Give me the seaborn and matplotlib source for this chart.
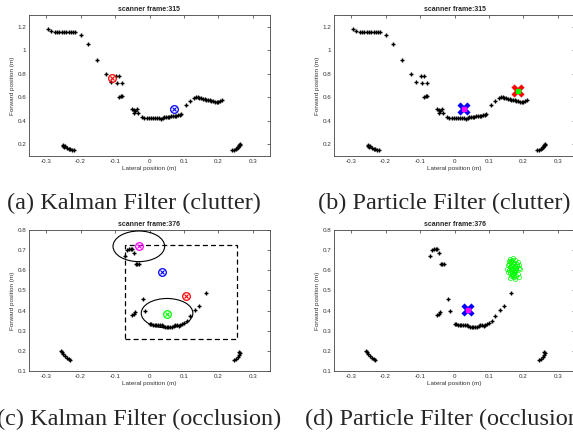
import numpy as np
import pandas as pd
import seaborn as sns
import matplotlib
matplotlib.use("Agg")
import matplotlib.pyplot as plt
from matplotlib.patches import Ellipse, Rectangle

sns.set_style("white")
plt.rcParams['font.family'] = ['Liberation Sans', 'DejaVu Sans']

# laser scan, frame 315
scan315_x = [-0.295, -0.285, -0.275, -0.268, -0.262, -0.255, -0.248, -0.242, -0.235, -0.228,
             -0.222, -0.215, -0.200, -0.180, -0.153, -0.125, -0.112, -0.096, -0.090, -0.093,
             -0.080, -0.088, -0.084, -0.079, -0.050, -0.046, -0.042, -0.037, -0.033, -0.045,
             -0.022, -0.015, -0.008, -0.002, 0.004, 0.010, 0.016, 0.022, 0.028, 0.033,
             0.038, 0.043, 0.048, 0.053, 0.058, 0.063, 0.068, 0.073, 0.078, 0.083,
             0.088, 0.092, 0.105, 0.118, 0.130, 0.135, 0.140, 0.145, 0.150, 0.155,
             0.160, 0.165, 0.170, 0.175, 0.180, 0.185, 0.190, 0.195, 0.200, 0.205,
             0.210, -0.250, -0.252, -0.248, -0.245, -0.240, -0.235, -0.230, -0.225, -0.220,
             0.240, 0.245, 0.250, 0.253, 0.256, 0.258, 0.260, 0.262, 0.264]
scan315_y = [1.185, 1.165, 1.155, 1.155, 1.155, 1.155, 1.155, 1.155, 1.155, 1.155,
             1.155, 1.155, 1.130, 1.050, 0.920, 0.795, 0.730, 0.780, 0.780, 0.720,
             0.720, 0.600, 0.610, 0.608, 0.500, 0.490, 0.480, 0.500, 0.470, 0.470,
             0.428, 0.426, 0.425, 0.425, 0.424, 0.424, 0.423, 0.422, 0.420, 0.416,
             0.422, 0.428, 0.432, 0.434, 0.436, 0.438, 0.440, 0.442, 0.444, 0.446,
             0.450, 0.455, 0.530, 0.570, 0.595, 0.600, 0.598, 0.595, 0.590, 0.585,
             0.582, 0.580, 0.578, 0.575, 0.572, 0.568, 0.563, 0.557, 0.560, 0.570,
             0.575, 0.190, 0.185, 0.180, 0.188, 0.165, 0.160, 0.158, 0.152, 0.155,
             0.150, 0.155, 0.160, 0.165, 0.175, 0.180, 0.190, 0.200, 0.195]

# laser scan, frame 376
scan376_x = [-0.070, -0.065, -0.060, -0.055, -0.050, -0.045, -0.040, -0.035, -0.030,
             -0.020, -0.012, -0.050, -0.046, -0.043,
             0.000, 0.005, 0.010, 0.015, 0.020, 0.025, 0.030, 0.035, 0.040, 0.045,
             0.050, 0.055, 0.060, 0.065, 0.070, 0.075, 0.080, 0.085, 0.090, 0.095,
             0.100, 0.108, 0.118, 0.133, 0.145, 0.165,
             -0.258, -0.255, -0.250, -0.245, -0.240, -0.235, -0.230,
             0.245, 0.250, 0.256, 0.260, 0.262, 0.260]
scan376_y = [0.670, 0.700, 0.705, 0.705, 0.705, 0.685, 0.632, 0.632, 0.632,
             0.458, 0.400, 0.380, 0.385, 0.395,
             0.335, 0.335, 0.330, 0.330, 0.328, 0.328, 0.327, 0.328, 0.325, 0.320,
             0.318, 0.318, 0.320, 0.320, 0.322, 0.328, 0.330, 0.325, 0.328, 0.332,
             0.338, 0.350, 0.372, 0.403, 0.425, 0.485,
             0.200, 0.195, 0.185, 0.175, 0.165, 0.160, 0.155,
             0.155, 0.160, 0.170, 0.180, 0.190, 0.195]

# Kalman filter estimates
kf315_x = [-0.110, 0.070]
kf315_y = [0.760, 0.500]
kf315_c = ['#ff0000', '#0000ff']
kf376_x = [-0.030, 0.035, 0.105, 0.050]
kf376_y = [0.720, 0.590, 0.472, 0.383]
kf376_c = ['#ff00ff', '#0000ff', '#ff0000', '#00ff00']

# particle filter estimates
pf315_x = [0.028, 0.183]
pf315_y = [0.504, 0.652]
pf315_c = ['#0000ff', '#ff0000']
pf315_in = ['#ff00ff', '#00ff00']
pf376_x = [0.040]
pf376_y = [0.405]

# particles of second target, frame 376
part_x = [0.158, 0.162, 0.165, 0.168, 0.171, 0.174, 0.160, 0.163, 0.167, 0.170,
          0.173, 0.176, 0.159, 0.164, 0.168, 0.172, 0.175, 0.178, 0.161, 0.166,
          0.169, 0.173, 0.177, 0.163, 0.167, 0.171, 0.174, 0.180, 0.155, 0.153,
          0.157, 0.183, 0.186, 0.188, 0.185, 0.179, 0.162, 0.170, 0.176, 0.182,
          0.190, 0.186, 0.154, 0.172, 0.166, 0.181, 0.160, 0.175]
part_y = [0.630, 0.640, 0.645, 0.650, 0.640, 0.635, 0.615, 0.620, 0.625, 0.630,
          0.610, 0.620, 0.600, 0.605, 0.600, 0.595, 0.600, 0.610, 0.585, 0.590,
          0.580, 0.585, 0.590, 0.572, 0.575, 0.570, 0.568, 0.600, 0.625, 0.605,
          0.645, 0.640, 0.625, 0.610, 0.580, 0.572, 0.655, 0.660, 0.650, 0.630,
          0.605, 0.565, 0.590, 0.615, 0.612, 0.620, 0.560, 0.558]

# ellipses and box in occlusion frame
ell_cx = [-0.031, 0.051]
ell_cy = [0.719, 0.387]
ell_w = [0.150, 0.150]
ell_h = [0.152, 0.146]
box_x = [-0.072, 0.255]
box_y = [0.257, 0.725]

W, H = 573, 433
fig = plt.figure(figsize=(W / 100, H / 100), dpi=100)


def make_ax(left, top, ylim, yticks, title):
    ax = fig.add_axes([left / W, 1 - (top + 141) / H, 241 / W, 141 / H])
    ax.set_xlim(-0.35, 0.35)
    ax.set_ylim(*ylim)
    ax.set_xticks([-0.3, -0.2, -0.1, 0, 0.1, 0.2, 0.3])
    ax.set_xticklabels(['-0.3', '-0.2', '-0.1', '0', '0.1', '0.2', '0.3'])
    ax.set_yticks(yticks)
    ax.set_yticklabels([('%g' % v) for v in yticks])
    ax.tick_params(direction='in', length=2, width=0.5, labelsize=4.5,
                   colors='#333333', pad=2, top=True, right=True)
    for s in ax.spines.values():
        s.set_linewidth(0.6)
        s.set_color('#444444')
    ax.set_title(title, fontsize=5, fontweight='bold', pad=3)
    return ax


def scan(ax, xs, ys):
    df = pd.DataFrame({'x': xs, 'y': ys})
    sns.scatterplot(data=df, x='x', y='y', ax=ax, marker='+', color='black',
                    s=12, linewidth=1.0, zorder=3)
    sns.scatterplot(data=df, x='x', y='y', ax=ax, marker='o', color='black',
                    s=1.8, linewidth=0, zorder=3)
    ax.set_xlabel('Lateral position (m)', fontsize=4.6, labelpad=1.5, color='#333333')
    ax.set_ylabel('Forward position (m)', fontsize=4.6, labelpad=2, color='#333333')


def kf_marks(ax, xs, ys, cs):
    for x, y, c in zip(xs, ys, cs):
        ax.plot(x, y, 'o', ms=5.5, mfc='none', mec=c, mew=0.9, zorder=5)
        ax.plot(x, y, 'x', ms=3.2, mec=c, mew=0.8, zorder=5)


def pf_marks(ax, xs, ys, cs, ins):
    for x, y, c, ci in zip(xs, ys, cs, ins):
        ax.plot(x, y, 'x', ms=7.5, mec=c, mew=3.2, zorder=5)
        ax.plot(x, y, 's', ms=3.5, mfc=ci, mec=ci, zorder=6)


yt1 = [0.2, 0.4, 0.6, 0.8, 1.0, 1.2]
yt2 = [0.1, 0.2, 0.3, 0.4, 0.5, 0.6, 0.7, 0.8]

ax_a = make_ax(29, 15, (0.1, 1.3), yt1, 'scanner frame:315')
scan(ax_a, scan315_x, scan315_y)
kf_marks(ax_a, kf315_x, kf315_y, kf315_c)

ax_b = make_ax(334, 15, (0.1, 1.3), yt1, 'scanner frame:315')
scan(ax_b, scan315_x, scan315_y)
pf_marks(ax_b, pf315_x, pf315_y, pf315_c, pf315_in)

ax_c = make_ax(29, 230, (0.1, 0.8), yt2, 'scanner frame:376')
scan(ax_c, scan376_x, scan376_y)
kf_marks(ax_c, kf376_x, kf376_y, kf376_c)
for cx, cy, w, h in zip(ell_cx, ell_cy, ell_w, ell_h):
    ax_c.add_patch(Ellipse((cx, cy), w, h, fill=False, ec='black', lw=0.8, zorder=4))
ax_c.add_patch(Rectangle((box_x[0], box_y[0]), box_x[1] - box_x[0], box_y[1] - box_y[0],
                         fill=False, ec='black', lw=0.9, ls=(0, (4, 2.5)), zorder=4))

ax_d = make_ax(334, 230, (0.1, 0.8), yt2, 'scanner frame:376')
scan(ax_d, scan376_x, scan376_y)
ax_d.plot(part_x, part_y, 'o', ms=3, mfc='none', mec='#00ff00', mew=0.5, zorder=4)
pf_marks(ax_d, pf376_x, pf376_y, ['#0000ff'], ['#ff00ff'])

cap = dict(fontsize=17.5, family=['Liberation Serif', 'DejaVu Serif'], va='center')
fig.text(7 / W, 1 - 203 / H, '(a) Kalman Filter (clutter)', ha='left', **cap)
fig.text(571 / W, 1 - 203 / H, '(b) Particle Filter (clutter)', ha='right', **cap)
fig.text(-3 / W, 1 - 419 / H, '(c) Kalman Filter (occlusion)', ha='left', **cap)
fig.text(305 / W, 1 - 419 / H, '(d) Particle Filter (occlusion)', ha='left', **cap)

fig.savefig('out.png', dpi=100)
